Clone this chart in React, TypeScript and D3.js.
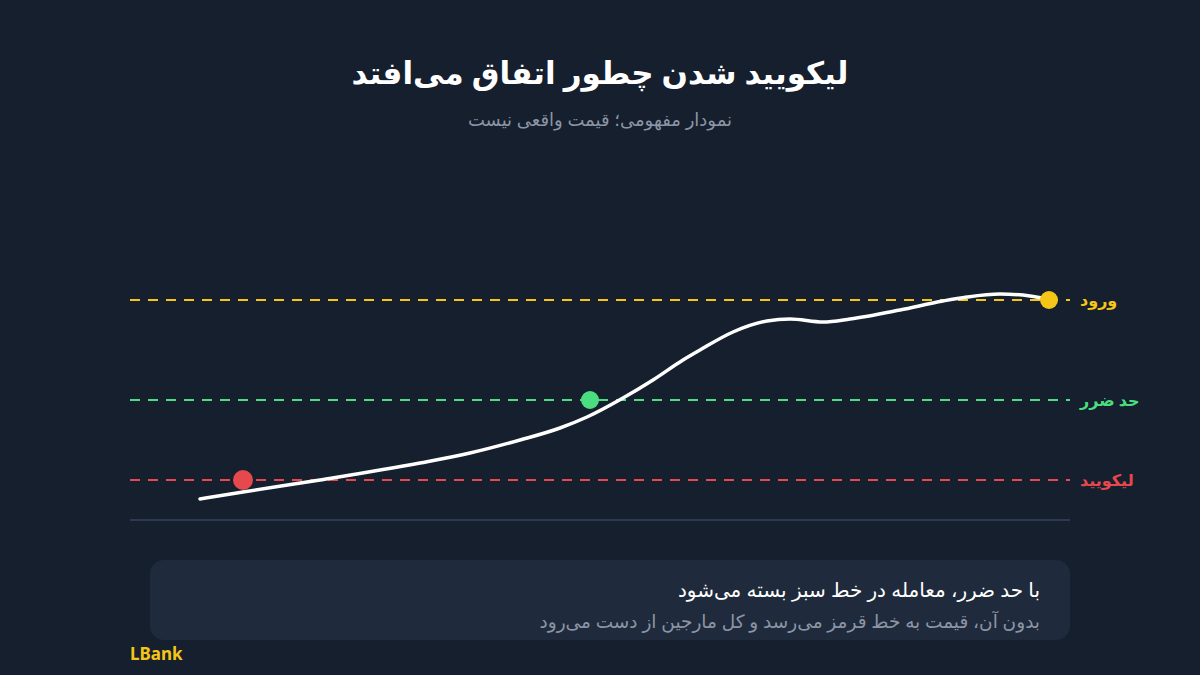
import React from "react";
import * as d3 from "d3";

const W = 1200;
const H = 675;

// price path (x in time units, y in price units)
const pathX = [7, 11.3, 19, 29, 34, 39, 43, 45.7, 49.3, 52.3, 55.3, 57, 60.3, 63.7, 66, 69.3, 72, 77, 81.3, 83.7, 87, 90, 91.8];
const pathY = [2.1, 2.8, 4.0, 5.7, 6.7, 8.0, 9.2, 10.3, 12.2, 14.0, 16.0, 17.0, 18.8, 19.9, 20.1, 19.8, 20.1, 21.0, 21.9, 22.3, 22.6, 22.4, 22.1];

const levelNames = ["ورود", "حد ضرر", "لیکویید"];
const levelValues = [22, 12, 4];
const levelColors = ["#f5c518", "#4ade80", "#e5484d"];
const markerX = [91.9, 46, 11.3];

const title = "لیکویید شدن چطور اتفاق می‌افتد";
const subtitle = "نمودار مفهومی؛ قیمت واقعی نیست";
const note1 = "با حد ضرر، معامله در خط سبز بسته می‌شود";
const note2 = "بدون آن، قیمت به خط قرمز می‌رسد و کل مارجین از دست می‌رود";
const brand = "LBank";

const FONT = "'Noto Sans', 'DejaVu Sans', sans-serif";

export default function App() {
  const x = d3.scaleLinear().domain([0, 94]).range([130, 1070]);
  const y = d3.scaleLinear().domain([0, 22]).range([520, 300]);
  const pts = pathX.map((v, i) => [v, pathY[i]] as [number, number]);
  const line = d3
    .line<[number, number]>()
    .x((d) => x(d[0]))
    .y((d) => y(d[1]))
    .curve(d3.curveMonotoneX);

  return (
    <svg width={W} height={H} style={{ display: "block", position: "absolute", left: 0, top: 0 }}>
      <rect x={0} y={0} width={W} height={H} fill="#151f2d" />
      <text x={600} y={84} textAnchor="middle" fill="#ffffff" fontFamily={FONT} fontWeight={700} fontSize={31}>
        {title}
      </text>
      <text x={600} y={126} textAnchor="middle" fill="#8b95a5" fontFamily={FONT} fontSize={18}>
        {subtitle}
      </text>

      {/* baseline */}
      <line x1={x(0)} x2={x(94)} y1={y(0)} y2={y(0)} stroke="#2b3a4f" strokeWidth={2} />

      {levelValues.map((v, i) => (
        <g key={i}>
          <line
            x1={x(0)}
            x2={x(94)}
            y1={y(v)}
            y2={y(v)}
            stroke={levelColors[i]}
            strokeWidth={2}
            strokeDasharray="10 8"
          />
          <text
            x={1080}
            y={y(v) + 6}
            textAnchor="start"
            fill={levelColors[i]}
            fontFamily={FONT}
            fontWeight={700}
            fontSize={16}
          >
            {levelNames[i]}
          </text>
        </g>
      ))}

      <path d={line(pts) || ""} fill="none" stroke="#ffffff" strokeWidth={3.5} strokeLinecap="round" />

      {levelValues.map((v, i) => (
        <circle key={i} cx={x(markerX[i])} cy={y(v)} r={i === 2 ? 10 : 9} fill={levelColors[i]} />
      ))}

      <rect x={150} y={560} width={920} height={80} rx={14} fill="#1f2a3c" />
      <text x={1040} y={597} textAnchor="end" fill="#ffffff" fontFamily={FONT} fontSize={20}>
        {note1}
      </text>
      <text x={1040} y={628} textAnchor="end" fill="#8b95a5" fontFamily={FONT} fontSize={18.5}>
        {note2}
      </text>

      <text x={130} y={660} fill="#f5c518" fontFamily={FONT} fontWeight={700} fontSize={17}>
        {brand}
      </text>
    </svg>
  );
}
